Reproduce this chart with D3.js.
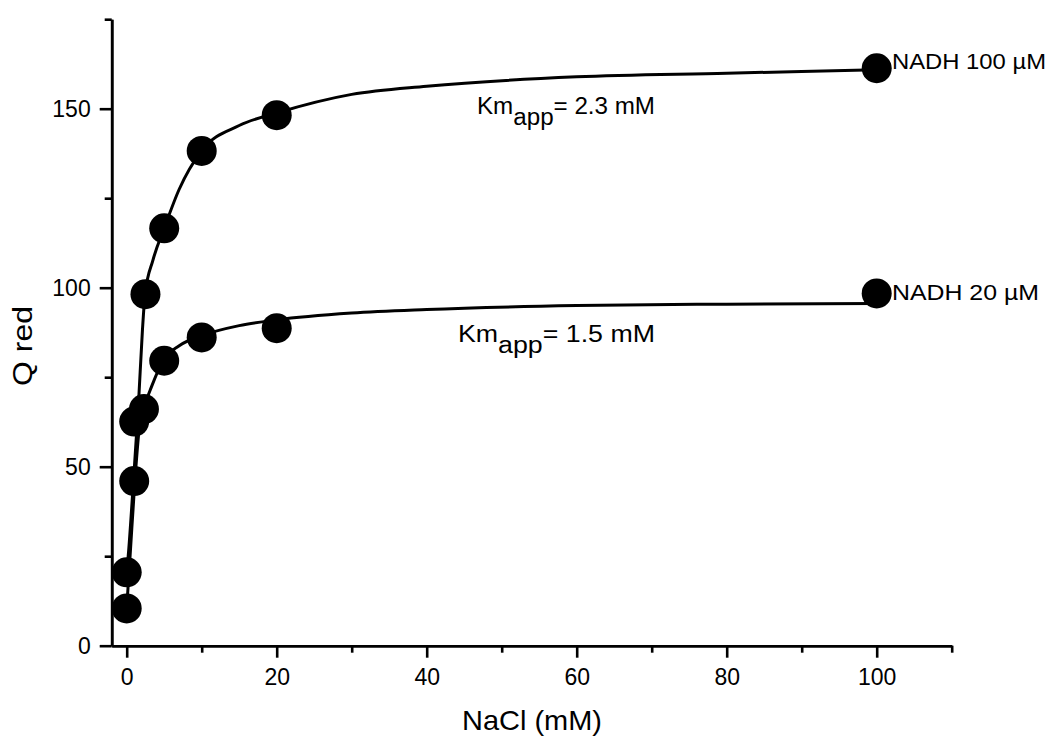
<!DOCTYPE html>
<html>
<head>
<meta charset="utf-8">
<script src="https://cdn.jsdelivr.net/npm/d3@7"></script>
<style>
  body { margin: 0; background: #fff; }
  svg { display: block; font-family: "Liberation Sans", Arial, sans-serif; }
</style>
</head>
<body>
<div id="chart"></div>
<script>
// measured points, NADH 100 uM
const xHigh = [0, 1, 2.5, 5, 10, 20, 100]
const yHigh = [20.5, 46, 98.2, 116.6, 138.2, 148.2, 161.3]
// measured points, NADH 20 uM
const xLow = [0, 1, 2.3, 5, 10, 20, 100]
const yLow = [10.4, 62.6, 66.1, 79.6, 86.1, 88.7, 98.4]

// fitted curves
const fitHighX = [0, 0.2, 0.9, 1.55, 2.1, 2.45, 3.5, 5, 7, 10, 15, 20, 30, 40, 60, 80, 100]
const fitHighY = [20.5, 25, 46, 66.8, 88.2, 98.2, 107.7, 116.6, 127.5, 138.3, 145.3, 148.8, 154, 156.3, 158.9, 159.9, 160.9]
const fitLowX = [0, 0.45, 1.1, 1.75, 2.3, 3.3, 4.9, 7, 10, 15, 20, 30, 40, 60, 80, 100]
const fitLowY = [10.5, 25, 46.3, 62.1, 66.5, 72.3, 79.8, 83.8, 86.6, 89.4, 91, 92.9, 93.9, 95, 95.4, 95.6]

const xMajor = [0, 20, 40, 60, 80, 100]
const xMinor = [10, 30, 50, 70, 90, 110]
const yMajor = [0, 50, 100, 150]
const yMinor = [25, 75, 125, 175]

const width = 1050
const height = 744

const svg = d3.select('#chart').append('svg')
  .attr('width', width)
  .attr('height', height)

const x = d3.scaleLinear().domain([-2, 110]).range([111.7, 951.7])
const y = d3.scaleLinear().domain([0, 175]).range([645.7, 19.2])

// axes
const styleAxis = function (g) {
  g.select('.domain').attr('stroke', '#000').attr('stroke-width', 2.6)
  g.selectAll('.tick line').attr('stroke', '#000').attr('stroke-width', 2.6)
  g.selectAll('.tick text').attr('fill', '#000').attr('font-size', 23)
    .attr('font-family', '"Liberation Sans", Arial, sans-serif')
}

svg.append('g')
  .attr('transform', `translate(0,${y(0)})`)
  .call(d3.axisBottom(x).tickValues(xMinor).tickSize(7).tickFormat('').tickSizeOuter(0))
  .call(styleAxis)
svg.append('g')
  .attr('transform', `translate(0,${y(0)})`)
  .call(d3.axisBottom(x).tickValues(xMajor).tickSize(12).tickPadding(11).tickSizeOuter(0))
  .call(styleAxis)

svg.append('g')
  .attr('transform', `translate(${x(-2)},0)`)
  .call(d3.axisLeft(y).tickValues(yMinor).tickSize(7).tickFormat('').tickSizeOuter(0))
  .call(styleAxis)
svg.append('g')
  .attr('transform', `translate(${x(-2)},0)`)
  .call(d3.axisLeft(y).tickValues(yMajor).tickSize(12).tickPadding(9).tickSizeOuter(0))
  .call(styleAxis)

// axis titles
svg.append('text')
  .attr('x', 462)
  .attr('y', 730)
  .attr('font-size', 28)
  .attr('textLength', 140)
  .attr('lengthAdjust', 'spacingAndGlyphs')
  .text('NaCl (mM)')

svg.append('text')
  .attr('transform', 'translate(32,386) rotate(-90)')
  .attr('font-size', 28)
  .attr('textLength', 80)
  .attr('lengthAdjust', 'spacingAndGlyphs')
  .text('Q red')

// fitted lines
const line = d3.line()
  .x(d => x(d[0]))
  .y(d => y(d[1]))
  .curve(d3.curveMonotoneX)

const fits = [d3.zip(fitHighX, fitHighY), d3.zip(fitLowX, fitLowY)]
fits.forEach(f => {
  svg.append('path')
    .datum(f)
    .attr('d', line)
    .attr('fill', 'none')
    .attr('stroke', '#000')
    .attr('stroke-width', 3)
})

// points
const pts = d3.zip(xHigh, yHigh).concat(d3.zip(xLow, yLow))
svg.selectAll('circle.pt')
  .data(pts)
  .enter().append('circle')
  .attr('class', 'pt')
  .attr('cx', d => x(d[0]))
  .attr('cy', d => y(d[1]))
  .attr('r', 15)
  .attr('fill', '#000')

// labels
const addLabel = function (tx, ty, txt, len) {
  svg.append('text')
    .attr('x', tx)
    .attr('y', ty)
    .attr('font-size', 22)
    .attr('textLength', len)
    .attr('lengthAdjust', 'spacingAndGlyphs')
    .text(txt)
}
addLabel(892, 69, 'NADH 100 \u00b5M', 154)
addLabel(892, 300, 'NADH 20 \u00b5M', 147)

const addKm = function (tx, ty, val, len) {
  const t = svg.append('text')
    .attr('x', tx)
    .attr('y', ty)
    .attr('font-size', 23)
    .attr('textLength', len)
    .attr('lengthAdjust', 'spacingAndGlyphs')
  t.append('tspan').text('Km')
  t.append('tspan').attr('dy', 11).text('app')
  t.append('tspan').attr('dy', -11).text('= ' + val + ' mM')
}
addKm(477, 114, '2.3', 178)
addKm(458, 342, '1.5', 197)
</script>
</body>
</html>
